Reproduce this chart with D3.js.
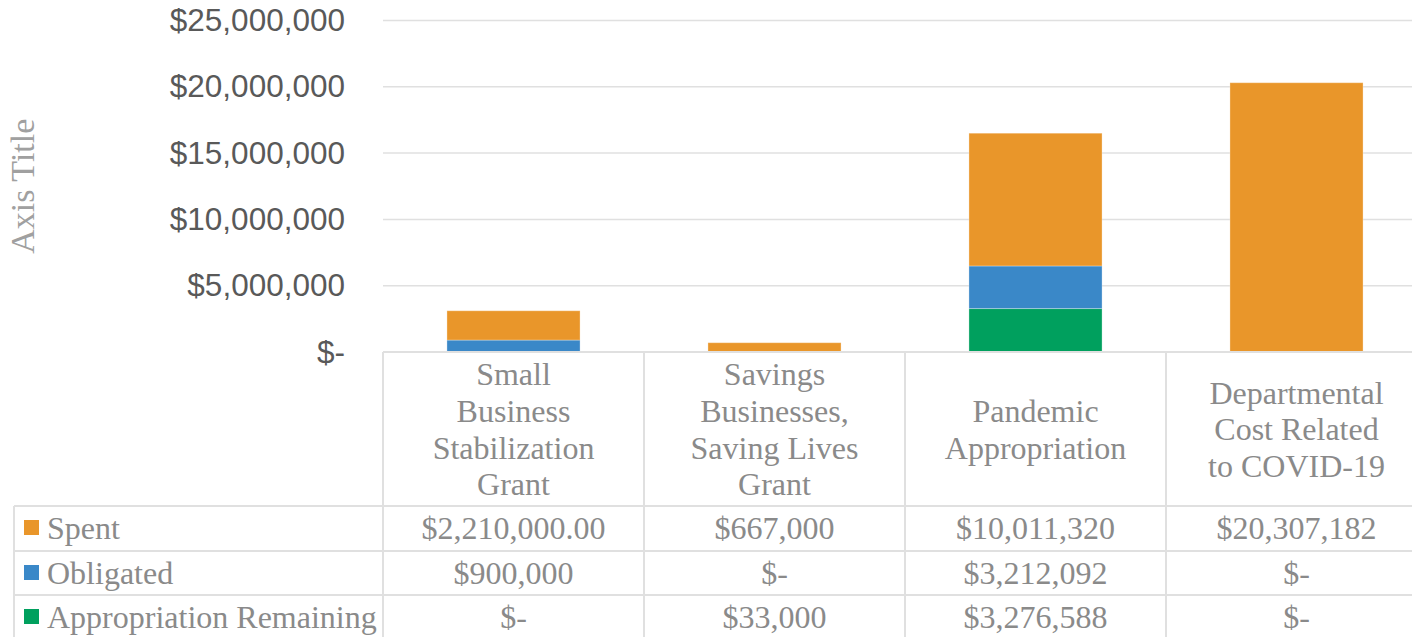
<!DOCTYPE html>
<html>
<head>
<meta charset="utf-8">
<script src="https://cdn.jsdelivr.net/npm/d3@7"></script>
<style>
  body { margin: 0; background: #fff; overflow: hidden; }
  svg { display: block; }
</style>
</head>
<body>
<div id="chart"></div>
<script>
const categories = [
  "Small Business Stabilization Grant",
  "Savings Businesses, Saving Lives Grant",
  "Pandemic Appropriation",
  "Departmental Cost Related to COVID-19"
];
const categoryLines = [
  ["Small", "Business", "Stabilization", "Grant"],
  ["Savings", "Businesses,", "Saving Lives", "Grant"],
  ["Pandemic", "Appropriation"],
  ["Departmental", "Cost Related", "to COVID-19"]
];
const seriesNames = ["Spent", "Obligated", "Appropriation Remaining"];
const spent = [2210000, 667000, 10011320, 20307182];
const obligated = [900000, 0, 3212092, 0];
const remaining = [0, 33000, 3276588, 0];
const tableLabels = [
  ["$2,210,000.00", "$667,000", "$10,011,320", "$20,307,182"],
  ["$900,000", "$-", "$3,212,092", "$-"],
  ["$-", "$33,000", "$3,276,588", "$-"]
];
const yTicks = [0, 5000000, 10000000, 15000000, 20000000, 25000000];

const colors = { "Spent": "#e9962a", "Obligated": "#3a88c8", "Appropriation Remaining": "#00a05e" };

const width = 1412, height = 637;
// the chart runs a little past the right edge of the picture
const plotLeft = 383, plotRight = 1427, plotTop = 20.5, plotBottom = 352;
const tableLeft = 14;
const rowTops = [506, 551, 595, 640];

const svg = d3.select("#chart").append("svg")
  .attr("width", width)
  .attr("height", height);

const x = d3.scaleBand().domain(categories).range([plotLeft, plotRight]).padding(0);
const y = d3.scaleLinear().domain([0, 25000000]).range([plotBottom, plotTop]);

// gridlines
svg.append("g")
  .selectAll("line")
  .data(yTicks.slice(1))
  .enter()
  .append("line")
  .attr("x1", plotLeft)
  .attr("x2", plotRight)
  .attr("y1", (d) => y(d))
  .attr("y2", (d) => y(d))
  .style("stroke", "#e0e0e0")
  .style("stroke-width", 1.5);

// y axis labels
const yAxis = d3.axisLeft(y)
  .tickValues(yTicks)
  .tickSize(0)
  .tickPadding(38)
  .tickFormat((d) => (d === 0 ? "$-" : "$" + d3.format(",")(d)));

const yg = svg.append("g")
  .attr("transform", `translate(${plotLeft},0)`)
  .call(yAxis);
yg.select(".domain").remove();
yg.selectAll("text")
  .style("font-family", "'Liberation Sans', Arial, sans-serif")
  .style("font-size", "31.5px")
  .attr("fill", "#595959");

// axis title
svg.append("text")
  .attr("transform", `translate(34,${(plotTop + plotBottom) / 2}) rotate(-90)`)
  .attr("text-anchor", "middle")
  .style("font-family", "'Liberation Serif', 'Times New Roman', serif")
  .style("font-size", "34px")
  .attr("fill", "#a0a0a0")
  .text("Axis Title");

// stacked bars
const rows = categories.map((c, i) => ({
  category: c,
  "Appropriation Remaining": remaining[i],
  "Obligated": obligated[i],
  "Spent": spent[i]
}));
const stack = d3.stack().keys(["Appropriation Remaining", "Obligated", "Spent"]);
const layers = stack(rows);
const barW = x.bandwidth() * 0.51;

svg.append("g")
  .selectAll("g")
  .data(layers)
  .enter()
  .append("g")
  .attr("fill", (d) => colors[d.key])
  .selectAll("rect")
  .data((d) => d)
  .enter()
  .append("rect")
  .attr("x", (d) => x(d.data.category) + (x.bandwidth() - barW) / 2)
  .attr("width", barW)
  .attr("y", (d) => y(d[1]))
  .attr("height", (d) => y(d[0]) - y(d[1]))
  .style("stroke", "rgba(255,255,255,0.3)")
  .style("stroke-width", 1);

// data table grid
const grid = svg.append("g")
  .style("stroke", "#e0e0e0")
  .style("stroke-width", 2);

grid.append("line")
  .attr("x1", plotLeft).attr("x2", plotRight)
  .attr("y1", plotBottom).attr("y2", plotBottom);

grid.selectAll("line.row")
  .data(rowTops.slice(0, 3))
  .enter()
  .append("line")
  .attr("class", "row")
  .attr("x1", tableLeft).attr("x2", plotRight)
  .attr("y1", (d) => d).attr("y2", (d) => d);

grid.selectAll("line.col")
  .data(categories)
  .enter()
  .append("line")
  .attr("class", "col")
  .attr("x1", (d) => x(d))
  .attr("x2", (d) => x(d))
  .attr("y1", plotBottom)
  .attr("y2", height);

grid.append("line")
  .attr("x1", tableLeft).attr("x2", tableLeft)
  .attr("y1", rowTops[0]).attr("y2", height);

const serif = "'Liberation Serif', 'Times New Roman', serif";
const textGray = "#8a8a8a";

// category labels
const catMid = (plotBottom + rowTops[0]) / 2;
const lineH = 36.7;
categories.forEach((c, i) => {
  const lines = categoryLines[i];
  const t = svg.append("text")
    .attr("text-anchor", "middle")
    .style("font-family", serif)
    .style("font-size", "32px")
    .attr("fill", textGray);
  lines.forEach((ln, j) => {
    t.append("tspan")
      .attr("x", x(c) + x.bandwidth() / 2)
      .attr("y", catMid + (j - (lines.length - 1) / 2) * lineH)
      .attr("dy", "0.35em")
      .text(ln);
  });
});

// table rows
seriesNames.forEach((s, r) => {
  const cy = (rowTops[r] + rowTops[r] + 44) / 2;
  svg.append("rect")
    .attr("x", 24)
    .attr("y", cy - 8)
    .attr("width", 15)
    .attr("height", 15)
    .attr("fill", colors[s]);
  svg.append("text")
    .attr("x", 47)
    .attr("y", cy)
    .attr("dy", "0.35em")
    .style("font-family", serif)
    .style("font-size", "32px")
    .attr("fill", textGray)
    .text(s);
  svg.append("g")
    .selectAll("text")
    .data(tableLabels[r])
    .enter()
    .append("text")
    .attr("x", (d, i) => x(categories[i]) + x.bandwidth() / 2)
    .attr("y", cy)
    .attr("dy", "0.35em")
    .attr("text-anchor", "middle")
    .style("font-family", serif)
    .style("font-size", "32px")
    .attr("fill", textGray)
    .text((d) => d);
});
</script>
</body>
</html>
